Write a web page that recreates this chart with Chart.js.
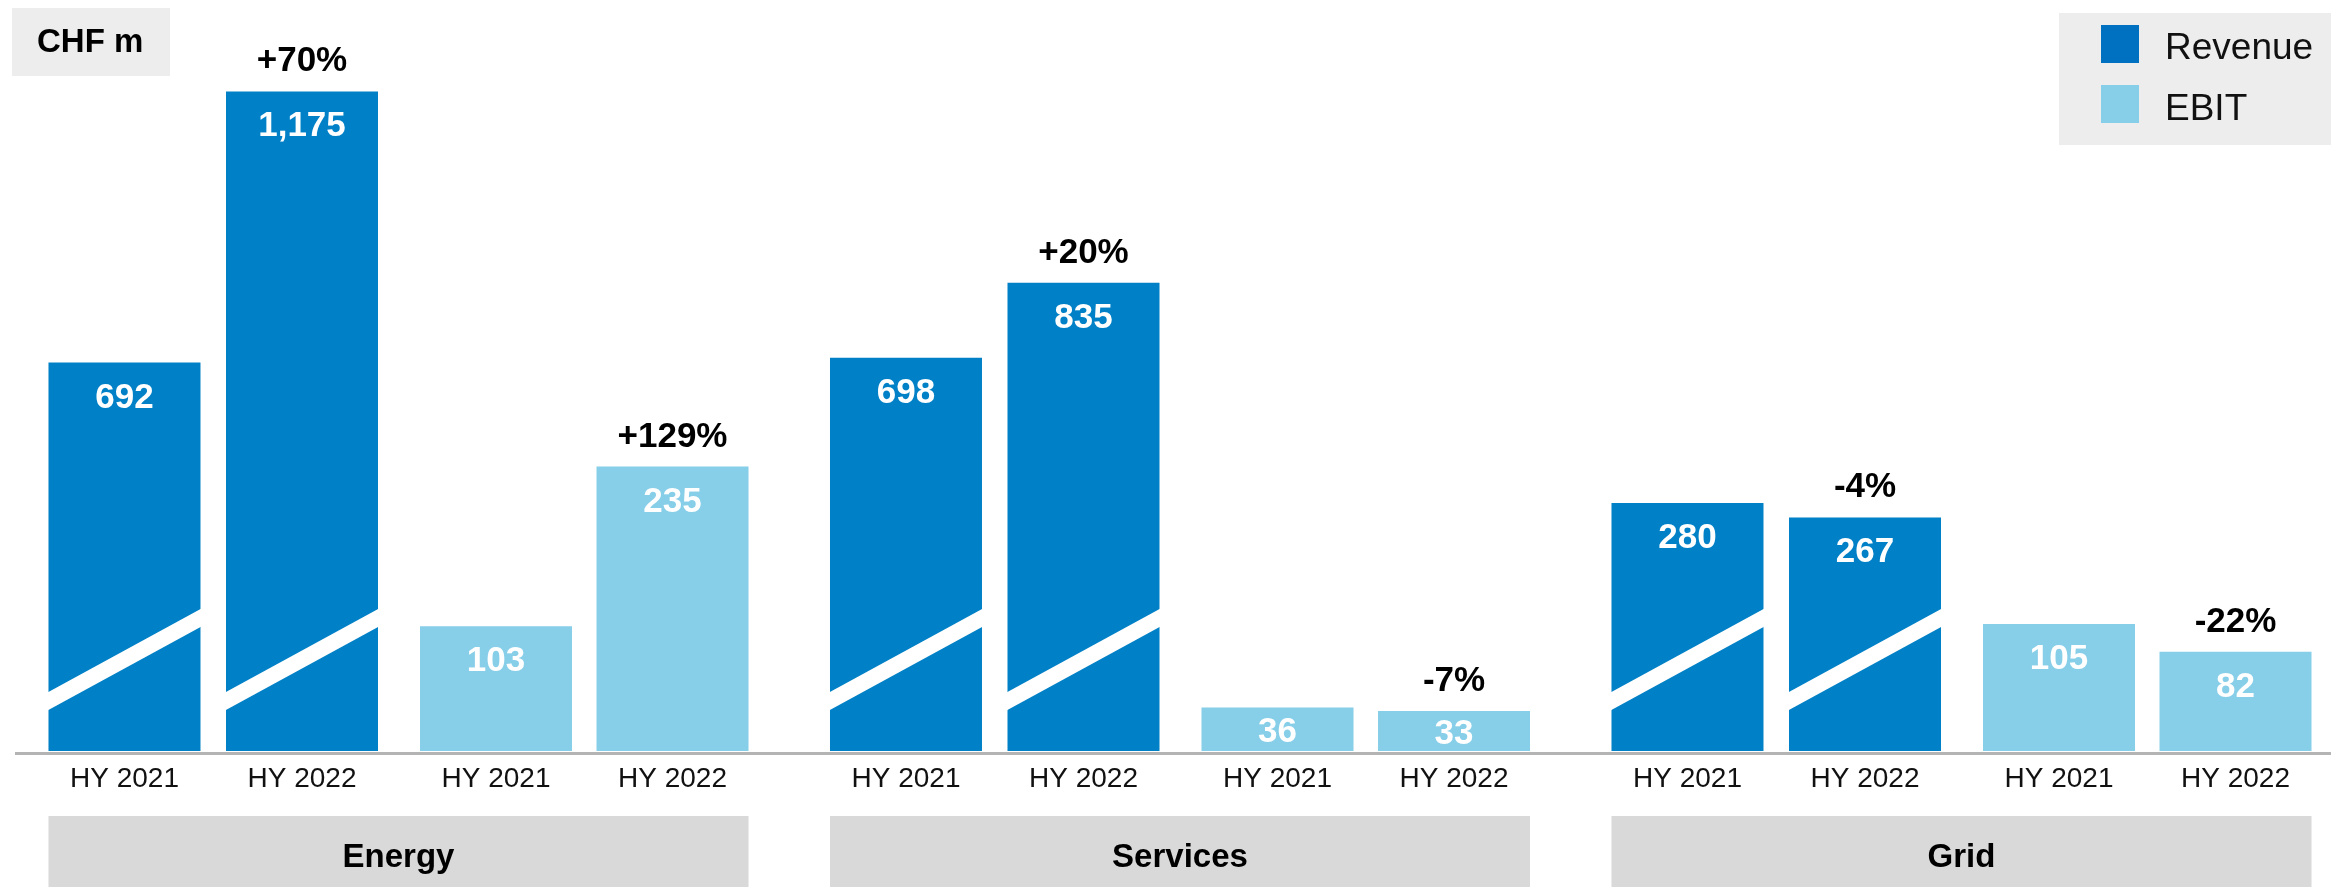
<!DOCTYPE html>
<html><head><meta charset="utf-8">
<script src="https://cdn.jsdelivr.net/npm/chart.js@4/dist/chart.umd.min.js"></script>
<style>html,body{margin:0;padding:0;background:#fff;overflow:hidden}canvas{display:block}</style>
</head><body>
<canvas id="c" width="2331" height="887" style="width:2331px;height:887px"></canvas>
<script>
// ---- data ----
const categories = ['Energy', 'Services', 'Grid'];
const periods = ['HY 2021', 'HY 2022'];
const seriesNames = ['Revenue', 'EBIT'];
const unitLabel = 'CHF m';
const revenue2021 = [692, 698, 280];
const revenue2022 = [1175, 835, 267];
const ebit2021 = [103, 36, 105];
const ebit2022 = [235, 33, 82];
// Revenue bars sit on a broken axis: their lengths as drawn in the picture (EBIT-scale units)
const revenueDrawn2021 = [321, 325, 205];
const revenueDrawn2022 = [545, 387, 193];
const revenueChange = ['+70%', '+20%', '-4%'];
const ebitChange = ['+129%', '-7%', '-22%'];

// ---- style ----
const FONT = '"Liberation Sans", Arial, sans-serif';
const REV = '#0080C6', REV_KEY = '#0070C0', EBIT = '#87CEE8';
const CAT_W = 781.5;                 // pixel distance between category centres
const groupSpan = [730.7, 772, 780, 730.7];
const BAR_W = 152;

function mk(i, label, data, values, color, stack) {
  return {
    label, data, values, backgroundColor: color, stack,
    categoryPercentage: groupSpan[i] / CAT_W,
    barPercentage: (BAR_W * 4) / groupSpan[i],
    borderWidth: 0, clip: false
  };
}
const datasets = [
  mk(0, seriesNames[0] + ' ' + periods[0], revenueDrawn2021, revenue2021, REV, 'r21'),
  mk(1, seriesNames[0] + ' ' + periods[1], revenueDrawn2022, revenue2022, REV, 'r22'),
  mk(2, seriesNames[1] + ' ' + periods[0], ebit2021, ebit2021, EBIT, 'e21'),
  mk(3, seriesNames[1] + ' ' + periods[1], ebit2022, ebit2022, EBIT, 'e22')
];
const changes = { 1: revenueChange, 3: ebitChange };

const overlay = {
  id: 'overlay',
  beforeDatasetsDraw(chart) {
    const ctx = chart.ctx;
    const metas = datasets.map((d, i) => chart.getDatasetMeta(i));
    const base = chart.scales.y.getPixelForValue(0);
    ctx.save();
    ctx.textBaseline = 'alphabetic';
    // unit box
    ctx.fillStyle = '#EDEDED'; ctx.fillRect(12, 8, 158, 68);
    ctx.fillStyle = '#000'; ctx.font = 'bold 33px ' + FONT; ctx.textAlign = 'left';
    ctx.fillText(unitLabel, 37, 52);
    // legend
    ctx.fillStyle = '#EDEDED'; ctx.fillRect(2059, 13, 272, 132);
    [REV_KEY, EBIT].forEach((c, i) => {
      ctx.fillStyle = c; ctx.fillRect(2101, 25 + 60 * i, 38, 38);
      ctx.fillStyle = '#111'; ctx.font = '37px ' + FONT; ctx.textAlign = 'left';
      ctx.fillText(seriesNames[i], 2165, 59 + 61 * i);
    });
    // axis line
    ctx.fillStyle = '#B4B4B4'; ctx.fillRect(15, base + 1, chart.width - 15, 3);
    // category boxes
    categories.forEach((cat, k) => {
      const a = metas[0].data[k], b = metas[3].data[k];
      const l = a.x - a.width / 2, r = b.x + b.width / 2;
      ctx.fillStyle = '#D9D9D9'; ctx.fillRect(l, 816, r - l, chart.height - 816);
      ctx.fillStyle = '#000'; ctx.font = 'bold 33px ' + FONT; ctx.textAlign = 'center';
      ctx.fillText(cat, (l + r) / 2, 867);
    });
    ctx.restore();
  },
  afterDatasetsDraw(chart) {
    const ctx = chart.ctx;
    const base = chart.scales.y.getPixelForValue(0);
    ctx.save();
    ctx.textBaseline = 'alphabetic';
    ctx.textAlign = 'center';
    datasets.forEach((d, i) => {
      const meta = chart.getDatasetMeta(i);
      meta.data.forEach((bar, k) => {
        const l = bar.x - bar.width / 2, r = bar.x + bar.width / 2;
        // broken-axis stripe on revenue bars
        if (i < 2) {
          ctx.fillStyle = '#FFFFFF';
          ctx.beginPath();
          ctx.moveTo(l - 1, base - 58.5);
          ctx.lineTo(r + 1, base - 142.5);
          ctx.lineTo(r + 1, base - 124.5);
          ctx.lineTo(l - 1, base - 40.5);
          ctx.closePath();
          ctx.fill();
        }
        // value label
        const top = bar.y;
        const by = Math.min(top + 45, (top + base) / 2 + 12.5);
        ctx.fillStyle = '#FFFFFF'; ctx.font = 'bold 35px ' + FONT;
        ctx.fillText(d.values[k].toLocaleString('en-US'), bar.x, by);
        // change label
        if (changes[i]) {
          ctx.fillStyle = '#000'; ctx.font = 'bold 35px ' + FONT;
          ctx.fillText(changes[i][k], bar.x, top - 20);
        }
        // period label
        ctx.fillStyle = '#111'; ctx.font = '28px ' + FONT;
        ctx.fillText(periods[i % 2], bar.x, 787);
      });
    });
    ctx.restore();
  }
};

new Chart(document.getElementById('c'), {
  type: 'bar',
  data: { labels: categories, datasets },
  options: {
    responsive: false,
    animation: false,
    layout: { padding: { left: 398.5, right: 369.5, top: 14, bottom: 136 } },
    plugins: { legend: { display: false }, tooltip: { enabled: false }, title: { display: false } },
    scales: {
      x: { type: 'category', display: false, offset: false, grid: { display: false } },
      y: { display: false, min: 0, max: 609, grid: { display: false } }
    }
  },
  plugins: [overlay]
});
</script>
</body></html>
